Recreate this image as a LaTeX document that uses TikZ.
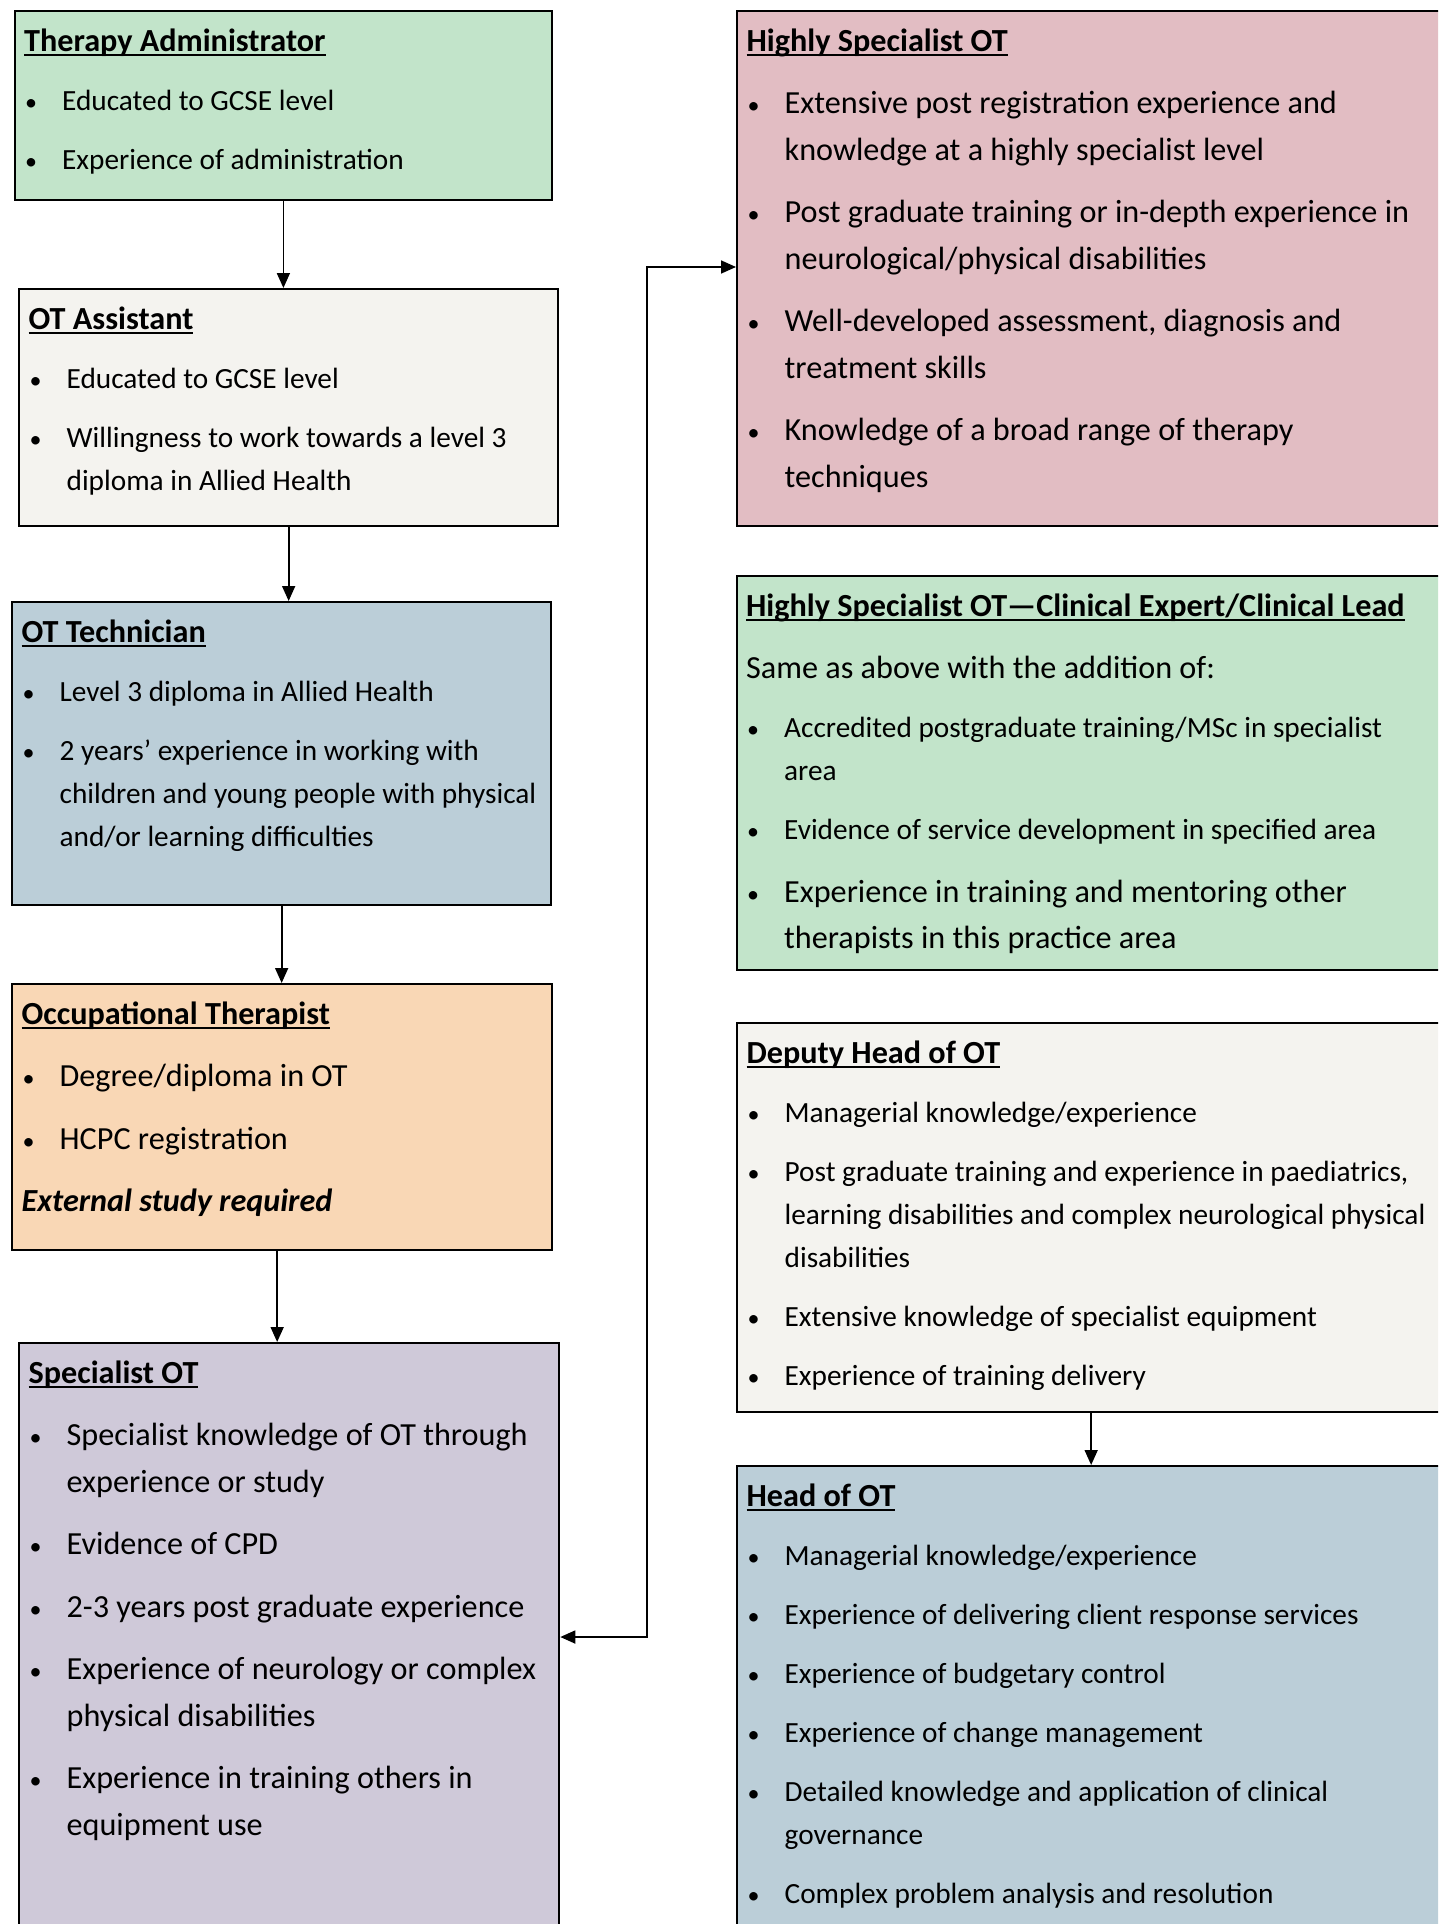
\documentclass[tikz,border=0pt]{standalone}
\usepackage{fontspec}
\setmainfont{Carlito}
\usetikzlibrary{arrows.meta}
\definecolor{stagegreen}{HTML}{C2E4CA}
\definecolor{stagecream}{HTML}{F4F3EF}
\definecolor{stageblue}{HTML}{BBCED8}
\definecolor{stagepeach}{HTML}{F9D7B5}
\definecolor{stagelilac}{HTML}{CFC9D9}
\definecolor{stagepink}{HTML}{E2BDC3}
\newsavebox{\hdbox}
\newcommand{\szS}{\fontsize{29.3}{43}\selectfont}
\newcommand{\szL}{\fontsize{32.2}{46.5}\selectfont}
\newcommand{\hd}[1]{\noindent\rule{0pt}{40pt}\sbox{\hdbox}{\fontsize{32.2}{43}\selectfont\textbf{#1}}\rlap{\rule[-5pt]{\wd\hdbox}{2pt}}\usebox{\hdbox}\par}
\newcommand{\itm}[1]{\par\hangindent=38pt\hangafter=1\noindent\hbox to 38pt{\hbox to 14pt{\hss{\fontsize{24}{24}\selectfont\textbullet}\hss}\hfil}#1\par}
\newcommand{\card}[3]{\parbox[t][#1][t]{#2}{\setlength{\parskip}{16pt}\rightskip=0pt plus 1fil\relax#3}}

\begin{document}
\begin{tikzpicture}[x=1pt, y=-1pt,
  stage/.style={draw, line width=2.3pt, anchor=north west, inner xsep=9.5pt, inner ysep=0pt},
  >={Triangle[length=15pt, width=13pt]},
  link/.style={line width=1.7pt, ->}]
\useasboundingbox (0,0) rectangle (1438,1924);
\clip (0,0) rectangle (1438,1924);
\node[stage, fill=stagegreen] (admin) at (13.5,10) {\card{189pt}{518.5pt}{\szS
  \hd{Therapy Administrator}
  \itm{Educated to GCSE level}
  \itm{Experience of administration}}};
\node[stage, fill=stagecream] (assist) at (18,288) {\card{237pt}{520pt}{\szS
  \hd{OT Assistant}
  \itm{Educated to GCSE level}
  \itm{Willingness to work towards a level 3\newline diploma in Allied Health}}};
\node[stage, fill=stageblue] (tech) at (11,601) {\card{303pt}{520pt}{\szS
  \hd{OT Technician}
  \itm{Level 3 diploma in Allied Health}
  \itm{2 years’ experience in working with\newline children and young people with physical\newline and/or learning difficulties}}};
\node[stage, fill=stagepeach] (occ) at (11,983) {\card{266pt}{521pt}{\szL
  \hd{Occupational Therapist}
  \itm{Degree/diploma in OT}
  \itm{HCPC registration}
  \noindent\textbf{\textit{External study required}}\par}};
\node[stage, fill=stagelilac] (spec) at (18,1342) {\card{600pt}{521pt}{\szL
  \hd{Specialist OT}
  \itm{Specialist knowledge of OT through\newline experience or study}
  \itm{Evidence of CPD}
  \itm{2-3 years post graduate experience}
  \itm{Experience of neurology or complex\newline physical disabilities}
  \itm{Experience in training others in\newline equipment use}}};
\node[stage, fill=stagepink] (high) at (736,10) {\card{515pt}{689pt}{\szL
  \hd{Highly Specialist OT}
  \itm{Extensive post registration experience and\newline knowledge at a highly specialist level}
  \itm{Post graduate training or in-depth experience in\newline neurological/physical disabilities}
  \itm{Well-developed assessment, diagnosis and\newline treatment skills}
  \itm{Knowledge of a broad range of therapy\newline techniques}}};
\node[stage, fill=stagegreen] (lead) at (735.5,575) {\card{394pt}{689pt}{\szL
  \hd{Highly Specialist OT—Clinical Expert/Clinical Lead}
  \noindent Same as above with the addition of:\par
  \szS
  \itm{Accredited postgraduate training/MSc in specialist\newline area}
  \itm{Evidence of service development in specified area}
  \szL
  \itm{Experience in training and mentoring other\newline therapists in this practice area}}};
\node[stage, fill=stagecream] (deputy) at (736,1022) {\card{389pt}{689pt}{\szS
  \hd{Deputy Head of OT}
  \itm{Managerial knowledge/experience}
  \itm{Post graduate training and experience in paediatrics,\newline learning disabilities and complex neurological physical\newline disabilities}
  \itm{Extensive knowledge of specialist equipment}
  \itm{Experience of training delivery}}};
\node[stage, fill=stageblue] (head) at (736,1465) {\card{480pt}{689pt}{\szS
  \hd{Head of OT}
  \itm{Managerial knowledge/experience}
  \itm{Experience of delivering client response services}
  \itm{Experience of budgetary control}
  \itm{Experience of change management}
  \itm{Detailed knowledge and application of clinical\newline governance}
  \itm{Complex problem analysis and resolution}}};
\coordinate (bendLow) at (647,1637);
\coordinate (bendHigh) at (647,267);
\draw[link] (admin.south) -- (admin.south |- assist.north);
\draw[link] (assist.south) -- (assist.south |- tech.north);
\draw[link] (tech.south) -- (tech.south |- occ.north);
\draw[link] ([xshift=-5pt]occ.south) -- ([xshift=-5pt]occ.south |- spec.north);
\draw[link] (deputy.south) -- (deputy.south |- head.north);
\draw[link, <->] (spec.east |- bendLow) -- (bendLow) -- (bendHigh) -- (high.west |- bendHigh);
\end{tikzpicture}
\end{document}
